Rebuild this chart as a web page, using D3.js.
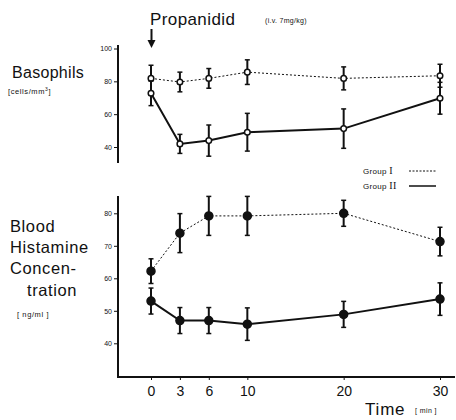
<!DOCTYPE html>
<html><head><meta charset="utf-8">
<script src="https://cdn.jsdelivr.net/npm/d3@7"></script>
<style>body{margin:0;background:#fff}svg{display:block}text{font-family:"Liberation Sans",Arial,sans-serif;fill:#111}</style>
</head><body><svg id="c" width="456" height="420"></svg>
<script>
const times = [0, 3, 6, 10, 20, 30];
const xTickLabels = ["0", "3", "6", "10", "20", "30"];
const basoG1 = [81.8, 79.6, 81.8, 85.6, 81.8, 83.4];
const basoG1Err = [8, 6, 6, 7.5, 7, 7];
const basoG2 = [72.7, 41.9, 43.9, 49, 51.2, 69.7];
const basoG2Err = [7.5, 5.8, 9.5, 11.5, 12, 9.7];
const histG1 = [62.2, 73.9, 79.2, 79.2, 80, 71.3];
const histG1Err = [3.8, 6, 6, 6, 4, 4.4];
const histG2 = [53, 47, 47, 45.9, 48.9, 53.6];
const histG2Err = [4, 4, 4, 5, 4, 5];
const basoTicks = [100, 80, 60, 40];
const histTicks = [80, 70, 60, 50, 40];

const svg = d3.select("#c");
const x = d3.scaleLinear().domain([0, 30]).range([151, 440]);
const yTop = d3.scaleLinear().domain([40, 100]).range([147, 48.5]);
const yBot = d3.scaleLinear().domain([40, 80]).range([343.3, 213.3]);

function yAxis(scale, ticks, y0, y1) {
  const g = svg.append("g").attr("transform", "translate(118,0)");
  g.call(d3.axisLeft(scale).tickValues(ticks).tickSize(4).tickPadding(2).tickFormat(d3.format("d")));
  g.select(".domain").remove();
  g.selectAll(".tick line").attr("stroke", "#111").attr("stroke-width", 1);
  g.selectAll(".tick text").attr("font-size", 7).attr("fill", "#222").style("font-family", "Liberation Sans, Arial");
  svg.append("line").attr("x1", 118).attr("x2", 118).attr("y1", y0).attr("y2", y1)
    .attr("stroke", "#111").attr("stroke-width", 2);
}
yAxis(yTop, basoTicks, 45, 163);
yAxis(yBot, histTicks, 196, 377);

// x axis
const xa = svg.append("g").attr("transform", "translate(0,377)");
xa.call(d3.axisBottom(x).tickValues(times).tickSize(3).tickPadding(6).tickFormat((d, i) => xTickLabels[i]));
xa.select(".domain").remove();
xa.selectAll(".tick line").attr("stroke", "#111");
xa.selectAll(".tick text").attr("font-size", 14).attr("fill", "#111");
svg.append("line").attr("x1", 117).attr("x2", 455).attr("y1", 377).attr("y2", 377)
  .attr("stroke", "#111").attr("stroke-width", 2);

function series(vals, errs, yS, dashed, filled) {
  const line = d3.line().x((d, i) => x(times[i])).y(d => yS(d));
  svg.append("path").datum(vals).attr("d", line).attr("fill", "none").attr("stroke", "#111")
    .attr("stroke-width", dashed ? 1 : 2).attr("stroke-dasharray", dashed ? "2,2" : null);
  const g = svg.append("g");
  vals.forEach((v, i) => {
    const cx = x(times[i]), t = yS(v + errs[i]), b = yS(v - errs[i]);
    g.append("line").attr("x1", cx).attr("x2", cx).attr("y1", t).attr("y2", b).attr("stroke", "#111").attr("stroke-width", 2);
    g.append("line").attr("x1", cx - 2.5).attr("x2", cx + 2.5).attr("y1", t).attr("y2", t).attr("stroke", "#111").attr("stroke-width", 1.5);
    g.append("line").attr("x1", cx - 2.5).attr("x2", cx + 2.5).attr("y1", b).attr("y2", b).attr("stroke", "#111").attr("stroke-width", 1.5);
    g.append("circle").attr("cx", cx).attr("cy", yS(v)).attr("r", filled ? 4 : 2.8)
      .attr("fill", filled ? "#111" : "#fff").attr("stroke", "#111").attr("stroke-width", 1.5);
  });
}
series(basoG1, basoG1Err, yTop, true, false);
series(basoG2, basoG2Err, yTop, false, false);
series(histG1, histG1Err, yBot, true, true);
series(histG2, histG2Err, yBot, false, true);

// titles
svg.append("text").attr("x", 150).attr("y", 25).attr("font-size", 17).attr("letter-spacing", 0.4).text("Propanidid");
svg.append("text").attr("x", 265).attr("y", 23).attr("font-size", 7).attr("letter-spacing", 0.3).text("(i.v. 7mg/kg)");
svg.append("line").attr("x1", 151.5).attr("x2", 151.5).attr("y1", 29).attr("y2", 42).attr("stroke", "#111").attr("stroke-width", 2);
svg.append("path").attr("d", d3.line()([[147.5, 40], [155.5, 40], [151.5, 48]])).attr("fill", "#111");

svg.append("text").attr("x", 12).attr("y", 78).attr("font-size", 16).attr("letter-spacing", 0.3).text("Basophils");
svg.append("text").attr("x", 8).attr("y", 94).attr("font-size", 7.5).attr("letter-spacing", 0.6).html("[cells/mm<tspan dy='-3' font-size='5'>3</tspan><tspan dy='3'>]</tspan>");

const lbl = [["Blood", 10, 232], ["Histamine", 10, 253], ["Concen-", 10, 274], ["tration", 27, 296]];
lbl.forEach(l => svg.append("text").attr("x", l[1]).attr("y", l[2]).attr("font-size", 16.5).attr("letter-spacing", 0.6).text(l[0]));
svg.append("text").attr("x", 17).attr("y", 317).attr("font-size", 7.5).attr("letter-spacing", 0.6).text("[ ng/ml ]");

svg.append("text").attr("x", 365).attr("y", 415).attr("font-size", 17).attr("letter-spacing", 0.8).text("Time");
svg.append("text").attr("x", 415).attr("y", 413).attr("font-size", 7).attr("letter-spacing", 0.4).text("[ min ]");

// legend
svg.append("text").attr("x", 363).attr("y", 174).attr("font-size", 8).attr("letter-spacing", 0.3).html("Group <tspan font-family='Liberation Serif' font-size='10'>I</tspan>");
svg.append("text").attr("x", 363).attr("y", 189).attr("font-size", 8).attr("letter-spacing", 0.3).html("Group <tspan font-family='Liberation Serif' font-size='10'>II</tspan>");
svg.append("line").attr("x1", 409).attr("x2", 436).attr("y1", 171).attr("y2", 171).attr("stroke", "#111").attr("stroke-dasharray", "2,1.5");
svg.append("line").attr("x1", 409).attr("x2", 436).attr("y1", 186).attr("y2", 186).attr("stroke", "#111").attr("stroke-width", 1.5);
</script></body></html>
